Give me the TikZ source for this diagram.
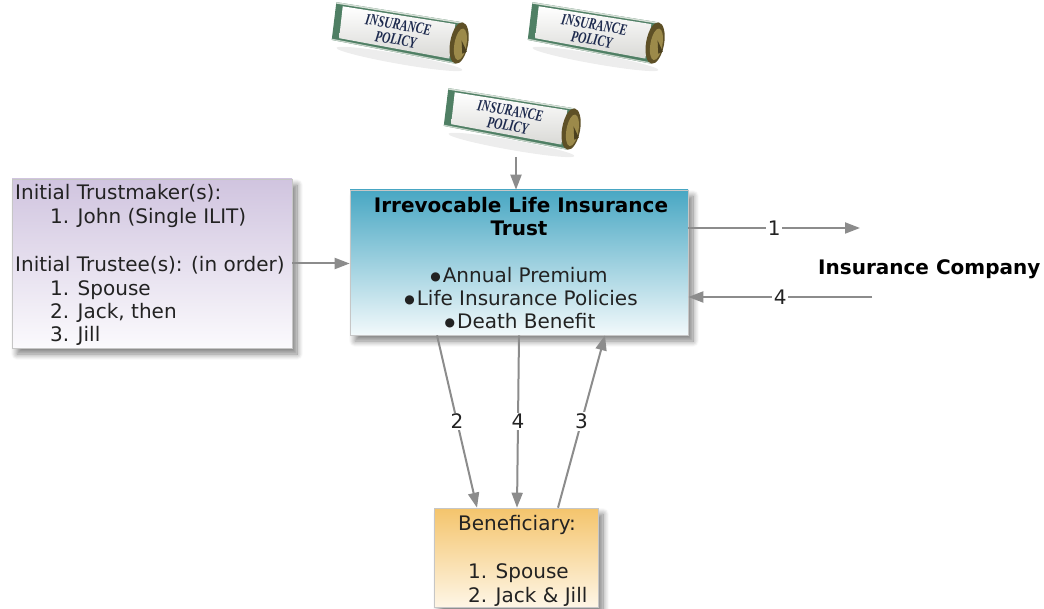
\documentclass[tikz,border=0pt]{standalone}
\usepackage{fontspec}
\setmainfont{DejaVu Sans}
\newfontfamily\policyfont{Liberation Serif}
\usetikzlibrary{arrows.meta,shadows.blur}
\definecolor{linegray}{HTML}{8C8C8C}
\definecolor{txt}{HTML}{222222}
\definecolor{lavtop}{HTML}{D0C4DF}
\definecolor{lavbot}{HTML}{FBFAFD}
\definecolor{tealtop}{HTML}{48A7C3}
\definecolor{tealbot}{HTML}{F2F9FB}
\definecolor{orgtop}{HTML}{F4C46C}
\definecolor{orgbot}{HTML}{FEF6E6}
\definecolor{scrollgreen}{HTML}{4F7F64}
\definecolor{scrollpaper}{HTML}{F7F7F3}
\definecolor{rolldark}{HTML}{5E5026}
\definecolor{rolllight}{HTML}{9C8A4A}
\definecolor{navy}{HTML}{1D2A4E}
\newcommand{\bul}{{\fontsize{12}{12}\selectfont\raisebox{2.5pt}{●}}\kern2pt}
\tikzset{
  box/.style={draw=gray!45, line width=0.6pt, inner sep=0pt,
    blur shadow={shadow xshift=5pt, shadow yshift=-6pt, shadow blur radius=6pt,
      shadow blur steps=10, shadow opacity=50}},
  lavbox/.style={box, top color=lavtop, bottom color=lavbot},
  tealbox/.style={box, top color=tealtop, bottom color=tealbot},
  orgbox/.style={box, top color=orgtop, bottom color=orgbot},
  lline/.style={anchor=base west, inner sep=0pt, text=txt, font=\fontsize{20}{24}\selectfont},
  cline/.style={anchor=base, inner sep=0pt, text=txt, font=\fontsize{20}{24}\selectfont},
  bline/.style={anchor=base, inner sep=0pt, text=black, font=\fontsize{20}{24}\selectfont\bfseries},
  flow/.style={draw=linegray, line width=2pt, -{Triangle[length=15pt,width=11pt]}},
  num/.style={fill=white, inner sep=1.5pt, text=txt, font=\fontsize{20}{24}\selectfont},
  policytxt/.style={inner sep=0pt, text=navy, transform shape, xscale=0.72, align=center,
    font=\policyfont\fontsize{16}{15}\selectfont\bfseries\itshape},
  policy/.pic={
    \fill[black, opacity=.07] (2,26) ellipse (64pt and 5pt);
    \fill[scrollgreen] (-70,-19) -- (57,-21) -- (57,21) -- (-68,19) -- cycle;
    \shade[top color=white, bottom color=scrollpaper!88!black]
      (-63,-16) -- (51,-18) -- (51,17) -- (-61,16) -- cycle;
    \fill[scrollpaper!80!scrollgreen] (-70,-19) -- (57,-21) -- (57,-19.5) -- (-70,-17.5) -- cycle;
    \fill[scrollpaper!70!scrollgreen] (-68,19) -- (57,21) -- (57,19.8) -- (-68,17.8) -- cycle;
    \fill[rolldark] (58,0) ellipse (9pt and 21pt);
    \fill[rolllight] (59.5,1) ellipse (6pt and 16pt);
    \fill[rolldark!80!black] (60,-3) -- (67,7) -- (63,10) -- cycle;
    \node[policytxt] (-lbl) at (-5,0) {INSURANCE\\POLICY};
  }
}
\begin{document}
\begin{tikzpicture}[x=1pt,y=-1pt]
\useasboundingbox (0,0) rectangle (1044,609);
% policies
\pic[rotate=-10] (pA) at (402,33) {policy};
\pic[rotate=-10] (pB) at (598,33) {policy};
\pic[rotate=-10] (pC) at (514,119) {policy};
\coordinate (ptail) at (516,157);
% boxes
\node[lavbox, minimum width=280pt, minimum height=169pt] (trustors) at (152,263.5) {};
\node[tealbox, minimum width=338pt, minimum height=145pt] (trust) at (519,262.5) {};
\node[orgbox, minimum width=164pt, minimum height=99pt] (ben) at (516,557.5) {};
% left box text
\node[lline] (t1) at (15,200) {Initial Trustmaker(s):};
\node[lline] (t2) at (50,224) {1. John (Single ILIT)};
\node[lline] (t3) at (15,272) {Initial Trustee(s): (in order)};
\node[lline] (t4) at (50,296) {1. Spouse};
\node[lline] (t5) at (50,319) {2. Jack, then};
\node[lline] (t6) at (50,342) {3. Jill};
% trust text
\node[bline] (c1) at (521,213) {Irrevocable Life Insurance};
\node[bline] (c2) at (519,236) {Trust};
\node[cline] (c3) at (519,283) {\bul Annual Premium};
\node[cline] (c4) at (521,306) {\bul Life Insurance Policies};
\node[cline] (c5) at (520,329) {\bul Death Benefit};
% beneficiary text
\node[cline] (b1) at (517,530) {Beneficiary:};
\node[lline] (b2) at (468,578) {1. Spouse};
\node[lline] (b3) at (468,602) {2. Jack \& Jill};
% insurance company
\node[bline, anchor=base west] (ic) at (818,275) {Insurance Company};
\coordinate (ic1) at (860,228);
\coordinate (ic4) at (872,297);
% connectors
\draw[flow] (ptail) -- (ptail |- trust.north);
\draw[flow] (trustors.east) -- (trustors.east -| trust.west);
\draw[flow] ([yshift=34.5pt]trust.east) -- node[num] (n1) {1} (ic1);
\draw[flow] (ic4) -- node[num] (n4a) {4} ([yshift=-34.5pt]trust.east);
\draw[flow] ([xshift=-82pt]trust.south) -- node[num] (n2) {2} ([xshift=-39pt]ben.north);
\draw[flow] (trust.south) -- node[num] (n4b) {4} ([xshift=1pt]ben.north);
\draw[flow] ([xshift=42pt]ben.north) -- node[num] (n3) {3} ([xshift=86pt]trust.south);
\end{tikzpicture}
\end{document}
